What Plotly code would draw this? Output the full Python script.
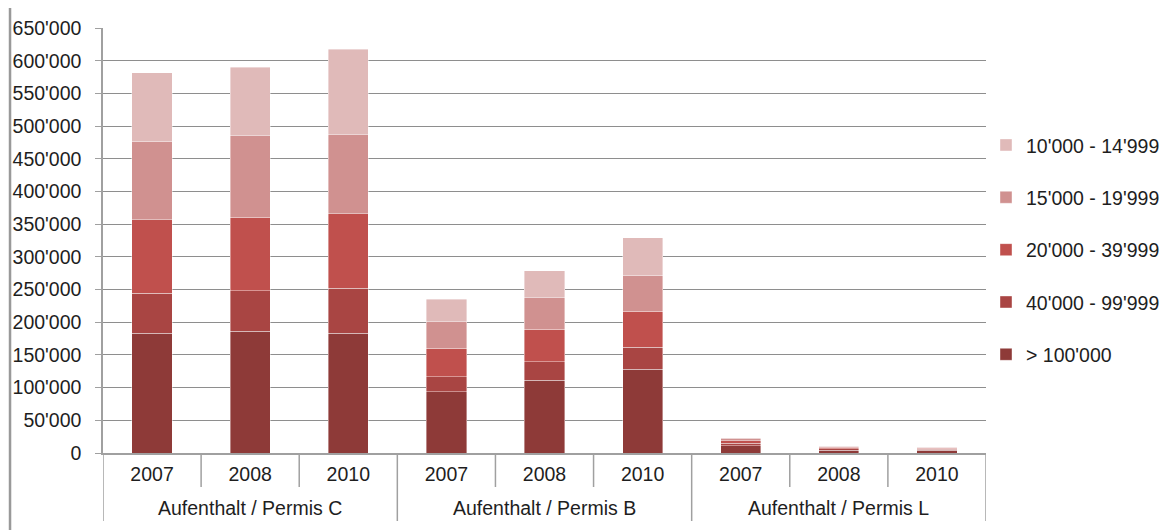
import plotly.graph_objects as go

group_names = ["Aufenthalt / Permis C", "Aufenthalt / Permis B", "Aufenthalt / Permis L"]
year_names = ["2007", "2008", "2010"]
cats = [g + " " + y for g in group_names for y in year_names]
year_labels = year_names * 3

# Stacked segments per income class
over_100k = [183500, 186000, 183500, 93700, 111600, 128400, 11000, 4500, 4000]
r40_99k = [60500, 62000, 68200, 23000, 28100, 33700, 4000, 2000, 1800]
r20_39k = [112700, 112200, 114300, 43400, 49400, 55000, 4000, 2000, 1700]
r15_19k = [120300, 124700, 120900, 40700, 48400, 55100, 2500, 1000, 900]
r10_14k = [104500, 105400, 130800, 34700, 41300, 57000, 2000, 800, 700]

series = [
    ("> 100'000", over_100k, "#8e3a38"),
    ("40'000 - 99'999", r40_99k, "#a94543"),
    ("20'000 - 39'999", r20_39k, "#c0504d"),
    ("15'000 - 19'999", r15_19k, "#d09190"),
    ("10'000 - 14'999", r10_14k, "#e0bab9"),
]

fig = go.Figure()
for i, (name, vals, col) in enumerate(series):
    fig.add_trace(go.Bar(
        x=cats, y=vals, name=name, legendgroup=name, legendrank=len(series) - i,
        marker=dict(color=col, line=dict(color="rgba(255,255,255,0.5)", width=0.8)),
    ))

gray = "#a0a0a0"
shapes = []
# separators under the axis: short ones between years, long ones between groups
for k in range(len(cats) + 1):
    is_group = k % 3 == 0
    shapes.append(dict(
        type="line", xref="x", yref="paper",
        x0=k - 0.5, x1=k - 0.5, y0=0, y1=-0.16 if is_group else -0.08,
        line=dict(color=gray, width=1.5),
    ))
# outer frame
shapes.append(dict(
    type="rect", xref="paper", yref="paper",
    x0=-0.1053, x1=1.22, y0=-0.2, y1=1.053,
    line=dict(color="#999999", width=2.5), layer="below",
))

annotations = []
for j, g in enumerate(group_names):
    annotations.append(dict(
        x=3 * j + 1, y=-0.129, xref="x", yref="paper", text=g,
        showarrow=False, yanchor="middle", xanchor="center",
        font=dict(size=19.5),
    ))

# page body adds an 8px margin, so the figure is shrunk and shifted to compensate
fig.update_layout(
    barmode="stack",
    bargap=0.59,
    width=1168, height=522,
    margin=dict(l=95, r=190, t=20, b=77, autoexpand=False),
    paper_bgcolor="white", plot_bgcolor="white",
    separators=".'",
    font=dict(family="Liberation Sans, Arial", size=19.5, color="#1e1e1e"),
    showlegend=True,
    legend=dict(
        traceorder="grouped", tracegroupgap=24,
        x=1.0, y=0.77, yanchor="top", xanchor="left",
        font=dict(size=19.5), itemwidth=30,
    ),
    xaxis=dict(
        type="category", range=[-0.5, 8.5], automargin=False,
        tickvals=cats, ticktext=year_labels,
        showline=True, linecolor=gray, linewidth=2,
        ticks="", showgrid=False, ticklabelstandoff=3,
    ),
    yaxis=dict(
        range=[0, 650000], dtick=50000, tickformat=",", automargin=False,
        showgrid=True, gridcolor="#8e8e8e", gridwidth=1,
        showline=True, linecolor=gray, linewidth=1.5,
        ticks="outside", ticklen=6, tickcolor=gray,
        zeroline=False, ticklabelstandoff=10,
    ),
    shapes=shapes,
    annotations=annotations,
)

fig.write_html("out.html")
